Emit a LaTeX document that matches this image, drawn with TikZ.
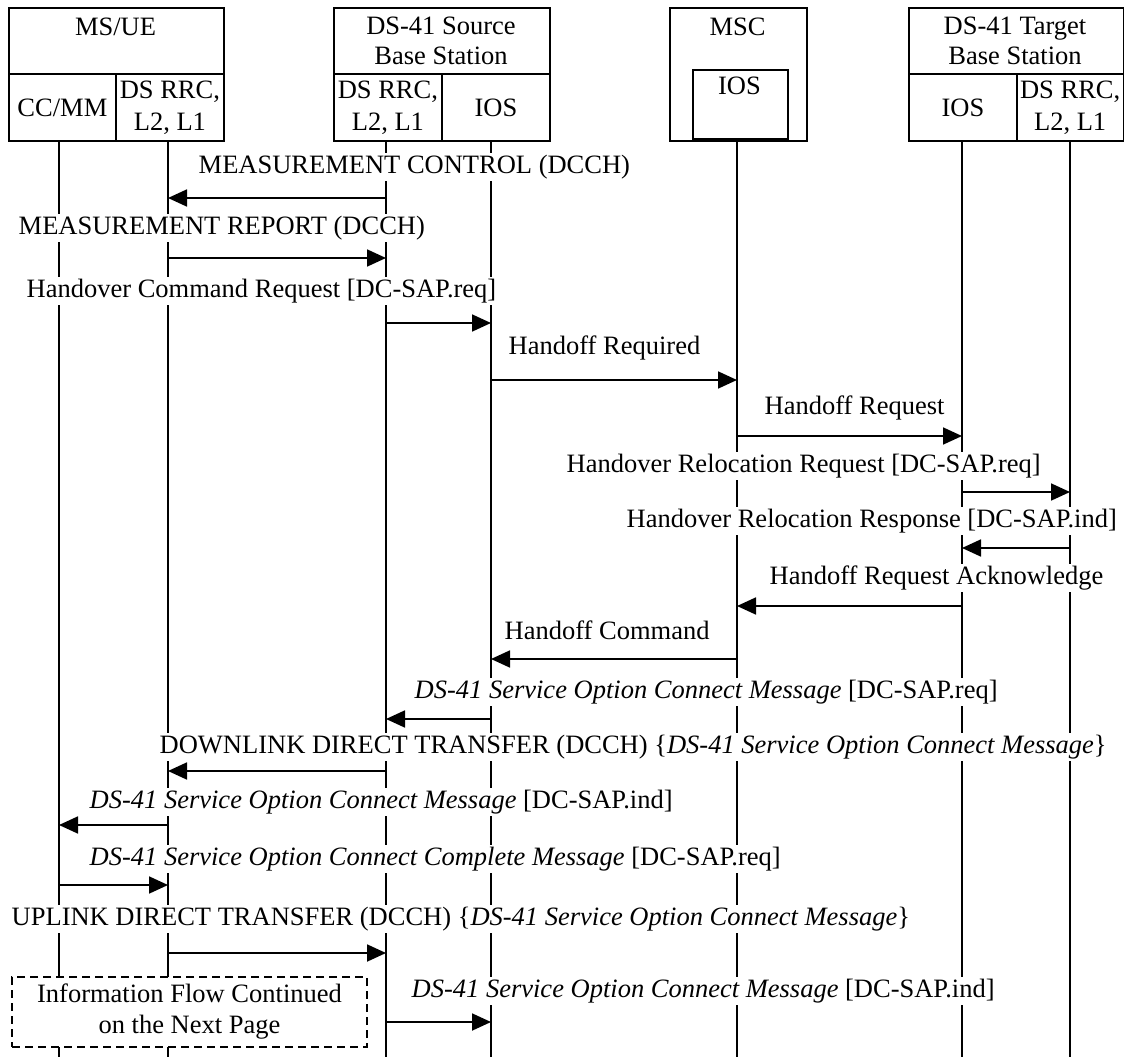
\documentclass[tikz,border=0pt]{standalone}
\usepackage{fontspec}
\setmainfont{Liberation Serif}
\usetikzlibrary{arrows.meta}
\begin{document}
\begin{tikzpicture}[x=1pt,y=-1pt,
  every node/.style={font=\fontsize{26.5}{30}\selectfont},
  cell/.style={draw,line width=1.8pt,inner sep=0pt,anchor=north west,align=center},
  life/.style={line width=1.8pt},
  msg/.style={line width=1.8pt,-{Triangle[length=19pt,width=17pt]}},
  lbl/.style={fill=white,inner sep=1.5pt,text height=19pt,text depth=6pt,anchor=west},
  two/.style={align=center,font=\fontsize{26.5}{30}\selectfont}]
\useasboundingbox (0,0) rectangle (1125,1057);

% ---- entity headers ----
% MS/UE
\node[cell,minimum width=215pt,minimum height=66pt] (ue) at (8,7) {};
\node (ueName) at (115.5,27) {MS/UE};
\node[cell,minimum width=107pt,minimum height=67pt] (ueCC) at (8,73) {CC/MM};
\node[cell,minimum width=108pt,minimum height=67pt,font=\fontsize{26.5}{32}\selectfont] (ueRRC) at (115,73) {DS RRC,\\L2, L1};
% source base station
\node[cell,minimum width=216pt,minimum height=66pt] (sbs) at (333,7) {};
\node[two] (sbsName) at (441,41) {DS-41 Source\\Base Station};
\node[cell,minimum width=108pt,minimum height=67pt,font=\fontsize{26.5}{32}\selectfont] (sbsRRC) at (333,73) {DS RRC,\\L2, L1};
\node[cell,minimum width=108pt,minimum height=67pt] (sbsIOS) at (441,73) {IOS};
% MSC
\node[cell,minimum width=137pt,minimum height=133pt] (msc) at (669,7) {};
\node (mscName) at (737.5,27) {MSC};
\node[cell,minimum width=95pt,minimum height=69pt] (mscIOS) at (692,69) {};
\node (mscIOSName) at (739.5,86) {IOS};
% target base station
\node[cell,minimum width=214.5pt,minimum height=66pt] (tbs) at (908,7) {};
\node[two] (tbsName) at (1015,41) {DS-41 Target\\Base Station};
\node[cell,minimum width=108pt,minimum height=67pt] (tbsIOS) at (908,73) {IOS};
\node[cell,minimum width=106.5pt,minimum height=67pt,font=\fontsize{26.5}{32}\selectfont] (tbsRRC) at (1016,73) {DS RRC,\\L2, L1};

% ---- lifelines ----
\coordinate (L1) at (59,140);
\coordinate (L2) at (168,140);
\coordinate (L3) at (386,140);
\coordinate (L4) at (491,140);
\coordinate (L5) at (737,140);
\coordinate (L6) at (962,140);
\coordinate (L7) at (1070,140);
\foreach \l in {L1,L2,L3,L4,L5,L6,L7}
  \draw[life] (\l) -- (\l |- 0,1057);

% ---- messages ----
\draw[msg] (L3 |- 0,198) -- (L2 |- 0,198);
\draw[msg] (L2 |- 0,258) -- (L3 |- 0,258);
\draw[msg] (L3 |- 0,323) -- (L4 |- 0,323);
\draw[msg] (L4 |- 0,380) -- (L5 |- 0,380);
\draw[msg] (L5 |- 0,436) -- (L6 |- 0,436);
\draw[msg] (L6 |- 0,492) -- (L7 |- 0,492);
\draw[msg] (L7 |- 0,548) -- (L6 |- 0,548);
\draw[msg] (L6 |- 0,606) -- (L5 |- 0,606);
\draw[msg] (L5 |- 0,659) -- (L4 |- 0,659);
\draw[msg] (L4 |- 0,719) -- (L3 |- 0,719);
\draw[msg] (L3 |- 0,771) -- (L2 |- 0,771);
\draw[msg] (L2 |- 0,825) -- (L1 |- 0,825);
\draw[msg] (L1 |- 0,885) -- (L2 |- 0,885);
\draw[msg] (L2 |- 0,953) -- (L3 |- 0,953);
\draw[msg] (L3 |- 0,1022) -- (L4 |- 0,1022);

% ---- message labels ----
\node[lbl] (t1) at (197,167) {MEASUREMENT CONTROL (DCCH)};
\node[lbl] (t2) at (17,228) {MEASUREMENT REPORT (DCCH)};
\node[lbl] (t3) at (25,291) {Handover Command Request [DC-SAP.req]};
\node[lbl] (t4) at (507,348) {Handoff Required};
\node[lbl] (t5) at (763,408) {Handoff Request};
\node[lbl] (t6) at (565,466) {Handover Relocation Request [DC-SAP.req]};
\node[lbl] (t7) at (625,521) {Handover Relocation Response [DC-SAP.ind]};
\node[lbl] (t8) at (768,578) {Handoff Request Acknowledge};
\node[lbl] (t9) at (503,633) {Handoff Command};
\node[lbl] (t10) at (413,692) {\textit{DS-41 Service Option Connect Message} [DC-SAP.req]};
\node[lbl] (t11) at (158,747) {DOWNLINK DIRECT TRANSFER (DCCH) \{\textit{DS-41 Service Option Connect Message}\}};
\node[lbl] (t12) at (88,802) {\textit{DS-41 Service Option Connect Message} [DC-SAP.ind]};
\node[lbl] (t13) at (88,859) {\textit{DS-41 Service Option Connect Complete Message} [DC-SAP.req]};
\node[lbl] (t14) at (10,919) {UPLINK DIRECT TRANSFER (DCCH) \{\textit{DS-41 Service Option Connect Message}\}};
\node[lbl] (t15) at (410,991) {\textit{DS-41 Service Option Connect Message} [DC-SAP.ind]};

% ---- continuation note ----
\node[draw,fill=white,line width=1.8pt,dash pattern=on 8pt off 5pt,
      minimum width=355pt,minimum height=70pt,inner sep=0pt,
      align=center,font=\fontsize{26.5}{31}\selectfont] (cont) at (189.5,1012)
  {Information Flow Continued\\on the Next Page};
\end{tikzpicture}
\end{document}
